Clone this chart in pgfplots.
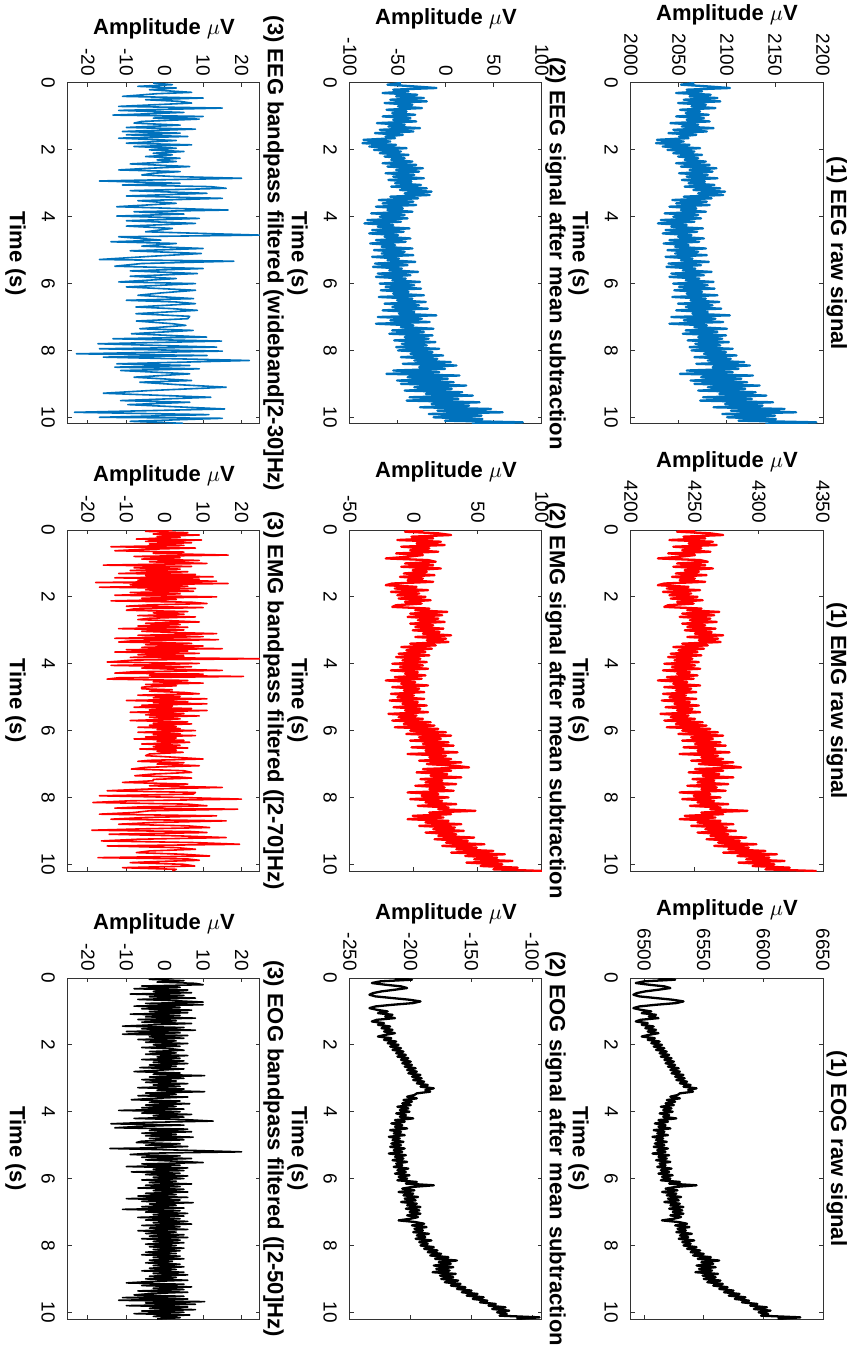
\documentclass[border=0pt]{standalone}
\usepackage{pgfplots}
\pgfplotsset{compat=1.18}
\usepackage{pgfplotstable}
\usepackage{graphicx}
\usepackage{fontspec}
\setmainfont{Liberation Sans}

\definecolor{eegblue}{RGB}{0,114,189}
\definecolor{emgred}{RGB}{255,0,0}

% raw signals (uV); mean-subtracted panels reuse them with the offset removed
\pgfplotstableread[row sep=\\]{
t v \\
0.00 2066 \\ 0.05 2052 \\ 0.10 2079 \\ 0.15 2103 \\ 0.20 2058 \\ 0.25 2074 \\ 0.30 2047 \\ 0.35 2083 \\ 0.40 2061 \\ 0.45 2090 \\
0.50 2055 \\ 0.55 2093 \\ 0.60 2049 \\ 0.65 2078 \\ 0.70 2063 \\ 0.75 2088 \\ 0.80 2051 \\ 0.85 2072 \\ 0.90 2057 \\ 0.95 2081 \\
1.00 2047 \\ 1.05 2076 \\ 1.10 2058 \\ 1.15 2082 \\ 1.20 2041 \\ 1.25 2070 \\ 1.30 2053 \\ 1.35 2086 \\ 1.40 2044 \\ 1.45 2079 \\
1.50 2039 \\ 1.55 2068 \\ 1.60 2050 \\ 1.65 2060 \\ 1.70 2027 \\ 1.75 2055 \\ 1.80 2026 \\ 1.85 2061 \\ 1.90 2033 \\ 1.95 2072 \\
2.00 2038 \\ 2.05 2066 \\ 2.10 2044 \\ 2.15 2074 \\ 2.20 2049 \\ 2.25 2070 \\ 2.30 2056 \\ 2.35 2078 \\ 2.40 2047 \\ 2.45 2082 \\
2.50 2052 \\ 2.55 2089 \\ 2.60 2061 \\ 2.65 2085 \\ 2.70 2050 \\ 2.75 2080 \\ 2.80 2058 \\ 2.85 2090 \\ 2.90 2053 \\ 2.95 2077 \\
3.00 2060 \\ 3.05 2087 \\ 3.10 2056 \\ 3.15 2093 \\ 3.20 2065 \\ 3.25 2098 \\ 3.30 2070 \\ 3.35 2096 \\ 3.40 2055 \\ 3.45 2084 \\
3.50 2043 \\ 3.55 2079 \\ 3.60 2047 \\ 3.65 2082 \\ 3.70 2040 \\ 3.75 2068 \\ 3.80 2052 \\ 3.85 2078 \\ 3.90 2035 \\ 3.95 2070 \\
4.00 2044 \\ 4.05 2073 \\ 4.10 2031 \\ 4.15 2066 \\ 4.20 2028 \\ 4.25 2058 \\ 4.30 2042 \\ 4.35 2075 \\ 4.40 2036 \\ 4.45 2069 \\
4.50 2033 \\ 4.55 2063 \\ 4.60 2049 \\ 4.65 2076 \\ 4.70 2040 \\ 4.75 2071 \\ 4.80 2034 \\ 4.85 2060 \\ 4.90 2046 \\ 4.95 2078 \\
5.00 2038 \\ 5.05 2070 \\ 5.10 2046 \\ 5.15 2079 \\ 5.20 2036 \\ 5.25 2064 \\ 5.30 2052 \\ 5.35 2081 \\ 5.40 2039 \\ 5.45 2073 \\
5.50 2037 \\ 5.55 2067 \\ 5.60 2054 \\ 5.65 2084 \\ 5.70 2042 \\ 5.75 2076 \\ 5.80 2040 \\ 5.85 2071 \\ 5.90 2057 \\ 5.95 2086 \\
6.00 2044 \\ 6.05 2080 \\ 6.10 2050 \\ 6.15 2087 \\ 6.20 2045 \\ 6.25 2074 \\ 6.30 2058 \\ 6.35 2090 \\ 6.40 2043 \\ 6.45 2078 \\
6.50 2062 \\ 6.55 2092 \\ 6.60 2049 \\ 6.65 2085 \\ 6.70 2057 \\ 6.75 2094 \\ 6.80 2047 \\ 6.85 2080 \\ 6.90 2064 \\ 6.95 2103 \\
7.00 2042 \\ 7.05 2088 \\ 7.10 2055 \\ 7.15 2096 \\ 7.20 2040 \\ 7.25 2079 \\ 7.30 2066 \\ 7.35 2100 \\ 7.40 2057 \\ 7.45 2090 \\
7.50 2054 \\ 7.55 2099 \\ 7.60 2070 \\ 7.65 2095 \\ 7.70 2059 \\ 7.75 2102 \\ 7.80 2067 \\ 7.85 2093 \\ 7.90 2061 \\ 7.95 2106 \\
8.00 2063 \\ 8.05 2099 \\ 8.10 2076 \\ 8.15 2110 \\ 8.20 2066 \\ 8.25 2104 \\ 8.30 2080 \\ 8.35 2118 \\ 8.40 2068 \\ 8.45 2124 \\
8.50 2085 \\ 8.55 2112 \\ 8.60 2058 \\ 8.65 2106 \\ 8.70 2051 \\ 8.75 2127 \\ 8.80 2073 \\ 8.85 2115 \\ 8.90 2062 \\ 8.95 2121 \\
9.00 2066 \\ 9.05 2134 \\ 9.10 2080 \\ 9.15 2119 \\ 9.20 2070 \\ 9.25 2130 \\ 9.30 2092 \\ 9.35 2141 \\ 9.40 2075 \\ 9.45 2126 \\
9.50 2072 \\ 9.55 2148 \\ 9.60 2098 \\ 9.65 2137 \\ 9.70 2086 \\ 9.75 2160 \\ 9.80 2104 \\ 9.85 2172 \\ 9.90 2095 \\ 9.95 2150 \\
10.00 2100 \\ 10.05 2151 \\ 10.10 2112 \\ 10.15 2193 \\ 10.20 2140 \\
}\eegraw

\pgfplotstableread[row sep=\\]{
t v \\
0.00 4250 \\ 0.05 4236 \\ 0.10 4262 \\ 0.15 4272 \\ 0.20 4241 \\ 0.25 4258 \\ 0.30 4230 \\ 0.35 4264 \\ 0.40 4245 \\ 0.45 4267 \\
0.50 4233 \\ 0.55 4255 \\ 0.60 4240 \\ 0.65 4262 \\ 0.70 4229 \\ 0.75 4250 \\ 0.80 4238 \\ 0.85 4221 \\ 0.90 4254 \\ 0.95 4260 \\
1.00 4236 \\ 1.05 4258 \\ 1.10 4233 \\ 1.15 4264 \\ 1.20 4242 \\ 1.25 4253 \\ 1.30 4235 \\ 1.35 4259 \\ 1.40 4232 \\ 1.45 4250 \\
1.50 4238 \\ 1.55 4258 \\ 1.60 4226 \\ 1.65 4221 \\ 1.70 4245 \\ 1.75 4228 \\ 1.80 4254 \\ 1.85 4225 \\ 1.90 4247 \\ 1.95 4230 \\
2.00 4252 \\ 2.05 4231 \\ 2.10 4256 \\ 2.15 4236 \\ 2.20 4249 \\ 2.25 4229 \\ 2.30 4226 \\ 2.35 4255 \\ 2.40 4244 \\ 2.45 4269 \\
2.50 4240 \\ 2.55 4265 \\ 2.60 4238 \\ 2.65 4262 \\ 2.70 4246 \\ 2.75 4267 \\ 2.80 4240 \\ 2.85 4258 \\ 2.90 4244 \\ 2.95 4266 \\
3.00 4242 \\ 3.05 4263 \\ 3.10 4250 \\ 3.15 4272 \\ 3.20 4244 \\ 3.25 4268 \\ 3.30 4253 \\ 3.35 4270 \\ 3.40 4240 \\ 3.45 4260 \\
3.50 4233 \\ 3.55 4257 \\ 3.60 4237 \\ 3.65 4252 \\ 3.70 4231 \\ 3.75 4255 \\ 3.80 4229 \\ 3.85 4248 \\ 3.90 4234 \\ 3.95 4253 \\
4.00 4226 \\ 4.05 4250 \\ 4.10 4232 \\ 4.15 4254 \\ 4.20 4225 \\ 4.25 4246 \\ 4.30 4236 \\ 4.35 4252 \\ 4.40 4228 \\ 4.45 4249 \\
4.50 4221 \\ 4.55 4244 \\ 4.60 4233 \\ 4.65 4254 \\ 4.70 4226 \\ 4.75 4247 \\ 4.80 4235 \\ 4.85 4251 \\ 4.90 4225 \\ 4.95 4243 \\
5.00 4230 \\ 5.05 4251 \\ 5.10 4224 \\ 5.15 4246 \\ 5.20 4234 \\ 5.25 4253 \\ 5.30 4227 \\ 5.35 4248 \\ 5.40 4236 \\ 5.45 4254 \\
5.50 4223 \\ 5.55 4245 \\ 5.60 4231 \\ 5.65 4250 \\ 5.70 4226 \\ 5.75 4256 \\ 5.80 4235 \\ 5.85 4259 \\ 5.90 4228 \\ 5.95 4262 \\
6.00 4240 \\ 6.05 4268 \\ 6.10 4237 \\ 6.15 4272 \\ 6.20 4247 \\ 6.25 4264 \\ 6.30 4240 \\ 6.35 4270 \\ 6.40 4250 \\ 6.45 4274 \\
6.50 4241 \\ 6.55 4266 \\ 6.60 4252 \\ 6.65 4277 \\ 6.70 4238 \\ 6.75 4268 \\ 6.80 4255 \\ 6.85 4272 \\ 6.90 4247 \\ 6.95 4280 \\
7.00 4253 \\ 7.05 4275 \\ 7.10 4286 \\ 7.15 4250 \\ 7.20 4272 \\ 7.25 4245 \\ 7.30 4269 \\ 7.35 4256 \\ 7.40 4280 \\ 7.45 4248 \\
7.50 4265 \\ 7.55 4252 \\ 7.60 4276 \\ 7.65 4244 \\ 7.70 4267 \\ 7.75 4255 \\ 7.80 4274 \\ 7.85 4238 \\ 7.90 4262 \\ 7.95 4249 \\
8.00 4270 \\ 8.05 4240 \\ 8.10 4265 \\ 8.15 4252 \\ 8.20 4276 \\ 8.25 4246 \\ 8.30 4270 \\ 8.35 4262 \\ 8.40 4291 \\ 8.45 4255 \\
8.50 4272 \\ 8.55 4242 \\ 8.60 4266 \\ 8.65 4238 \\ 8.70 4270 \\ 8.75 4252 \\ 8.80 4280 \\ 8.85 4247 \\ 8.90 4275 \\ 8.95 4258 \\
9.00 4282 \\ 9.05 4252 \\ 9.10 4276 \\ 9.15 4262 \\ 9.20 4290 \\ 9.25 4259 \\ 9.30 4285 \\ 9.35 4268 \\ 9.40 4298 \\ 9.45 4265 \\
9.50 4292 \\ 9.55 4276 \\ 9.60 4305 \\ 9.65 4272 \\ 9.70 4314 \\ 9.75 4283 \\ 9.80 4308 \\ 9.85 4290 \\ 9.90 4320 \\ 9.95 4284 \\
10.00 4312 \\ 10.05 4295 \\ 10.10 4324 \\ 10.15 4305 \\ 10.20 4345 \\
}\emgraw

\pgfplotstableread[row sep=\\]{
t v \\
0.00 6512 \\ 0.05 6526 \\ 0.10 6500 \\ 0.15 6493 \\ 0.20 6504 \\ 0.25 6517 \\ 0.30 6522 \\ 0.35 6512 \\ 0.40 6501 \\ 0.45 6494 \\
0.50 6491 \\ 0.55 6496 \\ 0.60 6510 \\ 0.65 6524 \\ 0.70 6533 \\ 0.75 6527 \\ 0.80 6510 \\ 0.85 6496 \\ 0.90 6491 \\ 0.95 6497 \\
1.00 6506 \\ 1.05 6498 \\ 1.10 6510 \\ 1.15 6504 \\ 1.20 6512 \\ 1.25 6497 \\ 1.30 6493 \\ 1.35 6503 \\ 1.40 6498 \\ 1.45 6508 \\
1.50 6501 \\ 1.55 6510 \\ 1.60 6503 \\ 1.65 6512 \\ 1.70 6504 \\ 1.75 6498 \\ 1.80 6509 \\ 1.85 6503 \\ 1.90 6513 \\ 1.95 6506 \\
2.00 6515 \\ 2.05 6508 \\ 2.10 6517 \\ 2.15 6510 \\ 2.20 6519 \\ 2.25 6513 \\ 2.30 6521 \\ 2.35 6514 \\ 2.40 6523 \\ 2.45 6517 \\
2.50 6525 \\ 2.55 6518 \\ 2.60 6526 \\ 2.65 6520 \\ 2.70 6529 \\ 2.75 6522 \\ 2.80 6530 \\ 2.85 6523 \\ 2.90 6533 \\ 2.95 6526 \\
3.00 6534 \\ 3.05 6527 \\ 3.10 6536 \\ 3.15 6530 \\ 3.20 6539 \\ 3.25 6533 \\ 3.30 6544 \\ 3.35 6537 \\ 3.40 6541 \\ 3.45 6530 \\
3.50 6528 \\ 3.55 6522 \\ 3.60 6530 \\ 3.65 6519 \\ 3.70 6526 \\ 3.75 6518 \\ 3.80 6525 \\ 3.85 6514 \\ 3.90 6523 \\ 3.95 6516 \\
4.00 6524 \\ 4.05 6513 \\ 4.10 6521 \\ 4.15 6516 \\ 4.20 6527 \\ 4.25 6512 \\ 4.30 6520 \\ 4.35 6509 \\ 4.40 6518 \\ 4.45 6512 \\
4.50 6522 \\ 4.55 6508 \\ 4.60 6517 \\ 4.65 6511 \\ 4.70 6520 \\ 4.75 6507 \\ 4.80 6516 \\ 4.85 6510 \\ 4.90 6519 \\ 4.95 6509 \\
5.00 6517 \\ 5.05 6508 \\ 5.10 6520 \\ 5.15 6511 \\ 5.20 6518 \\ 5.25 6507 \\ 5.30 6521 \\ 5.35 6512 \\ 5.40 6519 \\ 5.45 6510 \\
5.50 6522 \\ 5.55 6513 \\ 5.60 6518 \\ 5.65 6511 \\ 5.70 6523 \\ 5.75 6514 \\ 5.80 6521 \\ 5.85 6512 \\ 5.90 6524 \\ 5.95 6515 \\
6.00 6522 \\ 6.05 6514 \\ 6.10 6530 \\ 6.15 6521 \\ 6.20 6544 \\ 6.25 6526 \\ 6.30 6518 \\ 6.35 6528 \\ 6.40 6515 \\ 6.45 6527 \\
6.50 6519 \\ 6.55 6531 \\ 6.60 6520 \\ 6.65 6529 \\ 6.70 6517 \\ 6.75 6530 \\ 6.80 6522 \\ 6.85 6533 \\ 6.90 6521 \\ 6.95 6532 \\
7.00 6524 \\ 7.05 6533 \\ 7.10 6522 \\ 7.15 6531 \\ 7.20 6525 \\ 7.25 6515 \\ 7.30 6529 \\ 7.35 6536 \\ 7.40 6526 \\ 7.45 6538 \\
7.50 6528 \\ 7.55 6535 \\ 7.60 6527 \\ 7.65 6540 \\ 7.70 6530 \\ 7.75 6537 \\ 7.80 6529 \\ 7.85 6542 \\ 7.90 6532 \\ 7.95 6539 \\
8.00 6533 \\ 8.05 6544 \\ 8.10 6536 \\ 8.15 6547 \\ 8.20 6539 \\ 8.25 6550 \\ 8.30 6541 \\ 8.35 6556 \\ 8.40 6545 \\ 8.45 6563 \\
8.50 6548 \\ 8.55 6558 \\ 8.60 6544 \\ 8.65 6560 \\ 8.70 6546 \\ 8.75 6557 \\ 8.80 6543 \\ 8.85 6562 \\ 8.90 6549 \\ 8.95 6560 \\
9.00 6550 \\ 9.05 6564 \\ 9.10 6553 \\ 9.15 6566 \\ 9.20 6558 \\ 9.25 6570 \\ 9.30 6563 \\ 9.35 6575 \\ 9.40 6567 \\ 9.45 6580 \\
9.50 6571 \\ 9.55 6585 \\ 9.60 6576 \\ 9.65 6588 \\ 9.70 6582 \\ 9.75 6595 \\ 9.80 6589 \\ 9.85 6603 \\ 9.90 6592 \\ 9.95 6606 \\
10.00 6596 \\ 10.05 6604 \\ 10.10 6598 \\ 10.15 6631 \\ 10.20 6612 \\
}\eograw

% bandpass filtered signals (uV)
\pgfplotstableread[row sep=\\]{
t v \\
0.00 -3 \\ 0.05 2 \\ 0.10 -7 \\ 0.15 3 \\ 0.20 -4 \\ 0.28 7 \\ 0.32 -2 \\ 0.40 -11 \\ 0.45 10 \\ 0.50 -5 \\
0.55 4 \\ 0.60 7 \\ 0.70 -12 \\ 0.75 15 \\ 0.82 -12 \\ 0.88 5 \\ 0.96 -13.5 \\ 1.00 10 \\ 1.05 -3 \\ 1.08 9 \\
1.15 -6 \\ 1.20 -8 \\ 1.26 4 \\ 1.33 -10 \\ 1.38 8 \\ 1.45 -11 \\ 1.50 4 \\ 1.55 -10 \\ 1.60 6 \\ 1.65 -12 \\
1.72 3 \\ 1.80 -10 \\ 1.85 7 \\ 1.90 -8 \\ 1.95 3 \\ 2.00 -4 \\ 2.05 5 \\ 2.10 -3 \\ 2.15 2 \\ 2.20 -5 \\
2.25 4 \\ 2.30 -2 \\ 2.35 3 \\ 2.42 -9 \\ 2.50 6.5 \\ 2.55 -4 \\ 2.60 -12 \\ 2.65 4 \\ 2.70 -3 \\ 2.75 -6 \\
2.80 3 \\ 2.85 20 \\ 2.93 -17 \\ 3.00 4 \\ 3.05 -11 \\ 3.10 12 \\ 3.15 16 \\ 3.22 -9 \\ 3.30 11 \\ 3.38 -10 \\
3.45 15 \\ 3.52 -7 \\ 3.60 3 \\ 3.70 -12.5 \\ 3.80 16.5 \\ 3.85 -8 \\ 3.92 5 \\ 3.98 -12.5 \\ 4.05 9 \\ 4.12 -10 \\
4.20 8 \\ 4.28 -10 \\ 4.35 2 \\ 4.45 -5 \\ 4.55 24.8 \\ 4.60 -12 \\ 4.70 -1 \\ 4.75 -14 \\ 4.80 3 \\ 4.88 -6 \\
4.95 10 \\ 5.02 -9 \\ 5.10 9.5 \\ 5.18 -3 \\ 5.28 -17 \\ 5.33 18 \\ 5.40 -6 \\ 5.48 -13 \\ 5.55 10 \\ 5.62 -9 \\
5.70 8.5 \\ 5.78 -9 \\ 5.85 3 \\ 5.95 -12 \\ 6.00 8 \\ 6.10 -10 \\ 6.20 8 \\ 6.28 -1 \\ 6.35 -7 \\ 6.45 7.5 \\
6.50 -10 \\ 6.55 3 \\ 6.60 8 \\ 6.70 -7.5 \\ 6.75 2 \\ 6.80 8.5 \\ 6.90 -7.5 \\ 6.98 6.5 \\ 7.05 6 \\ 7.12 -7.4 \\
7.20 2 \\ 7.25 5.5 \\ 7.35 -6.5 \\ 7.40 7.4 \\ 7.50 -8.7 \\ 7.60 10.9 \\ 7.65 -13.5 \\ 7.72 14.8 \\ 7.80 -17.4 \\ 7.90 13.5 \\
7.95 -17 \\ 8.02 15 \\ 8.10 -23 \\ 8.15 11 \\ 8.20 -16 \\ 8.30 22 \\ 8.40 -12.5 \\ 8.45 6.5 \\ 8.50 -13 \\ 8.55 9 \\
8.60 -11.5 \\ 8.70 6.5 \\ 8.80 -8 \\ 8.90 7 \\ 8.95 -6.5 \\ 9.02 3 \\ 9.10 16 \\ 9.20 -4 \\ 9.28 -16 \\ 9.40 12 \\
9.50 -11.5 \\ 9.55 6.5 \\ 9.62 -9.6 \\ 9.75 15.6 \\ 9.85 -23.5 \\ 9.92 11.5 \\ 10.00 -17 \\ 10.03 15 \\ 10.12 -9 \\ 10.18 4.8 \\
}\eegbp

\pgfplotstableread[row sep=\\]{
t v \\
0.00 2 \\ 0.04 -5 \\ 0.08 6 \\ 0.12 -3 \\ 0.15 9 \\ 0.19 -2 \\ 0.22 4 \\ 0.27 -7.4 \\ 0.30 9.6 \\ 0.34 -5 \\
0.38 7 \\ 0.42 -4 \\ 0.46 5 \\ 0.50 -14 \\ 0.54 8 \\ 0.58 -6 \\ 0.62 -13 \\ 0.66 5 \\ 0.70 -3 \\ 0.75 16.5 \\
0.79 -8 \\ 0.83 4 \\ 0.87 -6 \\ 0.91 9 \\ 0.95 -4 \\ 1.00 11 \\ 1.05 -16 \\ 1.09 7 \\ 1.13 -8 \\ 1.17 4 \\
1.21 -9 \\ 1.25 6 \\ 1.30 -12 \\ 1.33 8 \\ 1.36 -5 \\ 1.40 12.6 \\ 1.43 -13 \\ 1.47 9 \\ 1.50 -7 \\ 1.53 13.5 \\
1.57 -18 \\ 1.60 16.5 \\ 1.64 -9 \\ 1.68 6 \\ 1.71 -17 \\ 1.75 8 \\ 1.79 -5 \\ 1.83 7.5 \\ 1.87 -9 \\ 1.91 4 \\
1.95 -13 \\ 2.00 13.5 \\ 2.04 -6 \\ 2.08 3 \\ 2.12 -14 \\ 2.16 7 \\ 2.20 11 \\ 2.24 -4 \\ 2.28 -10 \\ 2.32 10 \\
2.36 -8 \\ 2.40 -10 \\ 2.44 6 \\ 2.48 -3 \\ 2.52 5 \\ 2.56 -7 \\ 2.60 8 \\ 2.64 -4 \\ 2.68 -7 \\ 2.72 3 \\
2.75 9 \\ 2.79 -5 \\ 2.83 4 \\ 2.87 -7 \\ 2.91 6 \\ 2.95 -12 \\ 2.99 5 \\ 3.03 -6 \\ 3.07 4 \\ 3.10 13.5 \\
3.15 -7 \\ 3.19 10 \\ 3.22 -4 \\ 3.24 -13 \\ 3.28 14 \\ 3.32 -9 \\ 3.35 -12 \\ 3.39 7 \\ 3.43 -5 \\ 3.47 10 \\
3.51 -6 \\ 3.55 15 \\ 3.58 -10 \\ 3.62 6 \\ 3.65 -13 \\ 3.69 9 \\ 3.73 -7 \\ 3.77 5 \\ 3.81 -9 \\ 3.85 24.8 \\
3.89 -8 \\ 3.95 -15 \\ 3.99 9 \\ 4.03 -3 \\ 4.05 -14 \\ 4.09 7 \\ 4.13 -6 \\ 4.17 4 \\ 4.20 15 \\ 4.24 -8 \\
4.28 -13 \\ 4.31 10 \\ 4.35 -4 \\ 4.38 20.5 \\ 4.42 -12 \\ 4.46 -15 \\ 4.50 6 \\ 4.54 -3 \\ 4.58 10 \\ 4.62 -5 \\
4.66 3 \\ 4.70 -6 \\ 4.75 -6 \\ 4.78 2 \\ 4.82 -4 \\ 4.86 5 \\ 4.90 9 \\ 4.94 -7 \\ 4.98 4 \\ 5.02 -3 \\
5.05 11 \\ 5.10 -10 \\ 5.14 6 \\ 5.17 -3 \\ 5.20 11 \\ 5.24 -6 \\ 5.27 2 \\ 5.30 -8 \\ 5.34 7 \\ 5.38 -4 \\
5.40 11 \\ 5.45 -9 \\ 5.49 5 \\ 5.53 -5 \\ 5.56 9 \\ 5.60 -4 \\ 5.65 4 \\ 5.70 -9 \\ 5.74 6 \\ 5.78 -3 \\
5.80 7 \\ 5.84 -4 \\ 5.88 3 \\ 5.90 -7 \\ 5.94 4 \\ 5.97 -2 \\ 6.00 8 \\ 6.05 -7 \\ 6.09 4 \\ 6.12 -3 \\
6.15 8 \\ 6.19 -5 \\ 6.22 3 \\ 6.25 -8 \\ 6.29 5 \\ 6.32 -2 \\ 6.35 6.5 \\ 6.40 -6 \\ 6.44 4 \\ 6.48 -3 \\
6.52 6 \\ 6.55 -6.5 \\ 6.59 3 \\ 6.62 -2 \\ 6.65 4.8 \\ 6.70 -4 \\ 6.75 -5 \\ 6.80 3 \\ 6.85 10 \\ 6.89 -4 \\
6.92 -7 \\ 6.96 5 \\ 7.00 -2 \\ 7.05 9 \\ 7.10 -5 \\ 7.15 -8.7 \\ 7.20 5 \\ 7.25 7 \\ 7.30 -3 \\ 7.35 -7.8 \\
7.39 4 \\ 7.42 7 \\ 7.46 -3 \\ 7.50 -3 \\ 7.55 -11 \\ 7.60 6 \\ 7.65 -4 \\ 7.70 15 \\ 7.75 -5 \\ 7.80 -15 \\
7.85 8 \\ 7.90 7.4 \\ 7.95 -17 \\ 8.00 4 \\ 8.05 20 \\ 8.10 -9 \\ 8.15 -18.7 \\ 8.20 6 \\ 8.25 11 \\ 8.28 -6 \\
8.32 -13 \\ 8.35 19 \\ 8.40 -4 \\ 8.45 -8 \\ 8.50 -17 \\ 8.55 13.5 \\ 8.60 -5 \\ 8.65 -14 \\ 8.70 16 \\ 8.75 -3 \\
8.80 -12 \\ 8.85 6 \\ 8.90 11.7 \\ 8.94 -6 \\ 8.98 -19 \\ 9.02 7 \\ 9.05 11 \\ 9.10 -14.5 \\ 9.15 4 \\ 9.20 16 \\
9.25 -7 \\ 9.30 -16.5 \\ 9.35 8 \\ 9.40 19.5 \\ 9.45 -15 \\ 9.50 3 \\ 9.55 8 \\ 9.60 -4 \\ 9.65 -7.4 \\ 9.70 5 \\
9.75 11.7 \\ 9.80 -17.4 \\ 9.84 6 \\ 9.88 9 \\ 9.92 -3 \\ 9.95 -9 \\ 10.00 5 \\ 10.05 7.8 \\ 10.10 -11 \\ 10.15 3 \\
10.20 2 \\
}\emgbp

\pgfplotstableread[row sep=\\]{
t v \\
0.00 2 \\ 0.04 -4 \\ 0.08 5 \\ 0.12 -2 \\ 0.16 8 \\ 0.20 10 \\ 0.24 -6 \\ 0.28 4 \\ 0.32 -8 \\ 0.36 6 \\
0.40 -3 \\ 0.44 7 \\ 0.48 -9 \\ 0.52 5 \\ 0.56 -4 \\ 0.60 8 \\ 0.64 -7 \\ 0.68 3 \\ 0.72 10 \\ 0.76 -5 \\
0.80 10 \\ 0.84 -8 \\ 0.88 4 \\ 0.92 -6 \\ 0.96 7 \\ 1.00 -4 \\ 1.04 6 \\ 1.08 -9 \\ 1.12 4 \\ 1.16 -5 \\
1.20 8 \\ 1.24 -7 \\ 1.28 3 \\ 1.32 -6 \\ 1.36 7 \\ 1.40 -3 \\ 1.44 -11 \\ 1.48 5 \\ 1.52 -6 \\ 1.56 8 \\
1.60 -10 \\ 1.64 4 \\ 1.68 -11 \\ 1.72 6 \\ 1.76 -4 \\ 1.80 5 \\ 1.84 -7 \\ 1.88 3 \\ 1.92 -5 \\ 1.96 6 \\
2.00 -3 \\ 2.04 4 \\ 2.08 -6 \\ 2.12 2 \\ 2.16 5 \\ 2.20 -4 \\ 2.24 3 \\ 2.28 -5 \\ 2.32 6 \\ 2.36 -2 \\
2.40 4 \\ 2.44 -6 \\ 2.48 5 \\ 2.52 -3 \\ 2.56 6 \\ 2.60 -4 \\ 2.64 3 \\ 2.68 -6.5 \\ 2.72 5 \\ 2.76 -2 \\
2.80 -8 \\ 2.84 4 \\ 2.88 -3 \\ 2.92 10.4 \\ 2.96 -4 \\ 3.00 5 \\ 3.04 -6 \\ 3.08 3 \\ 3.12 -5 \\ 3.16 6 \\
3.20 -3 \\ 3.24 4 \\ 3.28 -7 \\ 3.32 5 \\ 3.36 -2 \\ 3.40 10.4 \\ 3.44 -5 \\ 3.48 3 \\ 3.52 -7 \\ 3.56 6 \\
3.60 -3 \\ 3.64 -8.7 \\ 3.68 4 \\ 3.72 -4 \\ 3.76 6.5 \\ 3.80 -5 \\ 3.84 3 \\ 3.88 -6 \\ 3.92 5 \\ 3.96 -12 \\
4.00 4 \\ 4.04 -6 \\ 4.08 7 \\ 4.12 -3 \\ 4.16 5 \\ 4.20 -8 \\ 4.24 6 \\ 4.28 12.6 \\ 4.32 -5 \\ 4.36 -14 \\
4.40 5 \\ 4.44 -7 \\ 4.48 -13 \\ 4.52 6 \\ 4.56 -4 \\ 4.60 7 \\ 4.64 -6 \\ 4.68 3 \\ 4.72 -5 \\ 4.76 7.4 \\
4.80 -4 \\ 4.84 5 \\ 4.88 -6 \\ 4.92 -7.4 \\ 4.96 4 \\ 5.00 -5 \\ 5.04 6 \\ 5.08 -3 \\ 5.10 -14.3 \\ 5.15 5 \\
5.20 20 \\ 5.24 -4 \\ 5.28 -9 \\ 5.32 4 \\ 5.36 -6 \\ 5.40 7 \\ 5.44 -5 \\ 5.48 3 \\ 5.52 10 \\ 5.56 -6 \\
5.60 4 \\ 5.64 -10 \\ 5.68 6 \\ 5.72 -3 \\ 5.76 5 \\ 5.80 -8.7 \\ 5.84 4 \\ 5.88 -5 \\ 5.92 6 \\ 5.96 -3 \\
6.00 5 \\ 6.04 -6 \\ 6.08 3 \\ 6.12 -4 \\ 6.16 7 \\ 6.20 -5 \\ 6.24 4 \\ 6.28 -7 \\ 6.32 5 \\ 6.36 -3 \\
6.40 6 \\ 6.44 -5 \\ 6.48 3 \\ 6.52 -7 \\ 6.56 6 \\ 6.60 -10 \\ 6.64 4 \\ 6.68 -6 \\ 6.72 7.4 \\ 6.76 -4 \\
6.80 3 \\ 6.84 -6 \\ 6.88 5 \\ 6.92 -11 \\ 6.96 4 \\ 7.00 -5 \\ 7.04 6 \\ 7.08 -3 \\ 7.12 5 \\ 7.16 -7 \\
7.20 4 \\ 7.24 -5 \\ 7.28 6 \\ 7.32 -3 \\ 7.36 7 \\ 7.40 -6 \\ 7.44 4 \\ 7.48 -4 \\ 7.52 6 \\ 7.56 -7 \\
7.60 3 \\ 7.64 -5 \\ 7.68 5 \\ 7.72 -4 \\ 7.76 6 \\ 7.80 -6 \\ 7.84 4 \\ 7.88 -3 \\ 7.92 5 \\ 7.96 -5 \\
8.00 3 \\ 8.04 -4 \\ 8.08 5 \\ 8.12 -3 \\ 8.16 4 \\ 8.20 -5 \\ 8.24 3 \\ 8.28 -6 \\ 8.32 4 \\ 8.36 -3 \\
8.40 5 \\ 8.44 -4 \\ 8.48 2 \\ 8.52 -5 \\ 8.56 4 \\ 8.60 -3 \\ 8.64 5 \\ 8.68 -4 \\ 8.72 3 \\ 8.76 -6 \\
8.80 5 \\ 8.84 -3 \\ 8.88 6 \\ 8.92 -4 \\ 8.96 3 \\ 9.00 -5 \\ 9.04 6 \\ 9.08 -4 \\ 9.12 -10 \\ 9.16 5 \\
9.20 -6 \\ 9.24 7 \\ 9.28 -3 \\ 9.32 5 \\ 9.36 -7 \\ 9.40 6 \\ 9.44 -4 \\ 9.48 -8 \\ 9.52 5 \\ 9.56 -11 \\
9.60 6 \\ 9.64 -12 \\ 9.68 10.4 \\ 9.72 -5 \\ 9.76 8 \\ 9.80 -10 \\ 9.84 6 \\ 9.88 -4 \\ 9.92 8 \\ 9.96 -6 \\
10.00 5 \\ 10.04 -8 \\ 10.08 6.5 \\ 10.12 -3 \\ 10.16 4 \\ 10.20 -2 \\
}\eogbp

\pgfplotsset{
  panel/.style={
    scale only axis, width=170.5pt, height=96pt, anchor=north west,
    xmin=0, xmax=10.2, xtick={0,2,4,6,8,10},
    axis line style={black!80, line width=0.5pt},
    tick style={black!80, line width=0.5pt},
    tick align=inside, major tick length=2pt,
    scaled ticks=false,
    /pgf/number format/assume math mode=true,
    /pgf/number format/1000 sep={},
    tick label style={font=\fontsize{9.5}{11}\selectfont},
    xticklabel style={yshift=-3pt},
    xlabel={\mbox{Time (s)}}, ylabel={\mbox{Amplitude $\mu$V}},
    xlabel style={at={(axis description cs:0.5,0)}, anchor=base, yshift=-29pt,
      text width=, align=center, font=\bfseries\fontsize{11}{13}\selectfont},
    ylabel style={inner sep=1pt, font=\bfseries\fontsize{11}{13}\selectfont},
    every axis title/.style={at={(axis description cs:0.5,1)}, anchor=base, yshift=4pt,
      font=\bfseries\fontsize{11}{13}\selectfont},
  },
  raw/.style={line width=1.15pt, line join=round},
  sig/.style={line width=0.8pt, line join=round},
  bp/.style={ymin=-25.2, ymax=24.8, ytick={-20,-10,0,10,20}},
}

\begin{document}
\rotatebox{-90}{%
\begin{tikzpicture}
\useasboundingbox (0,0) rectangle (674pt,-428pt);

% EEG column
\begin{axis}[panel, at={(41.5pt,-16.5pt)}, ymin=2000, ymax=2200, ytick={2000,2050,...,2200},
  title={(1) EEG raw signal}]
  \addplot[raw, eegblue] table[x=t, y=v] {\eegraw};
\end{axis}
\begin{axis}[panel, at={(41.5pt,-157pt)}, ymin=-100, ymax=100, ytick={-100,-50,...,100},
  title={(2) EEG signal after mean subtraction}]
  \addplot[raw, eegblue] table[x=t, y expr=\thisrow{v}-2113] {\eegraw};
\end{axis}
\begin{axis}[panel, bp, at={(41.5pt,-298pt)},
  title={(3) EEG bandpass filtered (wideband[2-30]Hz)}]
  \addplot[sig, eegblue] table[x=t, y=v] {\eegbp};
\end{axis}

% EMG column
\begin{axis}[panel, at={(265pt,-16.5pt)}, ymin=4200, ymax=4350, ytick={4200,4250,4300,4350},
  title={(1) EMG raw signal}]
  \addplot[raw, emgred] table[x=t, y=v] {\emgraw};
\end{axis}
\begin{axis}[panel, at={(265pt,-157pt)}, ymin=-50, ymax=100, ytick={-50,0,50,100},
  title={(2) EMG signal after mean subtraction}]
  \addplot[raw, emgred] table[x=t, y expr=\thisrow{v}-4243] {\emgraw};
\end{axis}
\begin{axis}[panel, bp, at={(265pt,-298pt)},
  title={(3) EMG bandpass filtered ([2-70]Hz)}]
  \addplot[sig, emgred] table[x=t, y=v] {\emgbp};
\end{axis}

% EOG column
\begin{axis}[panel, at={(489pt,-16.5pt)}, ymin=6489, ymax=6650, ytick={6500,6550,6600,6650},
  title={(1) EOG raw signal}]
  \addplot[raw, black] table[x=t, y=v] {\eograw};
\end{axis}
\begin{axis}[panel, at={(489pt,-157pt)}, ymin=-250, ymax=-92, ytick={-250,-200,-150,-100},
  title={(2) EOG signal after mean subtraction}]
  \addplot[raw, black] table[x=t, y expr=\thisrow{v}-6725] {\eograw};
\end{axis}
\begin{axis}[panel, bp, at={(489pt,-298pt)},
  title={(3) EOG bandpass filtered ([2-50]Hz)}]
  \addplot[sig, black] table[x=t, y=v] {\eogbp};
\end{axis}
\end{tikzpicture}}
\end{document}
